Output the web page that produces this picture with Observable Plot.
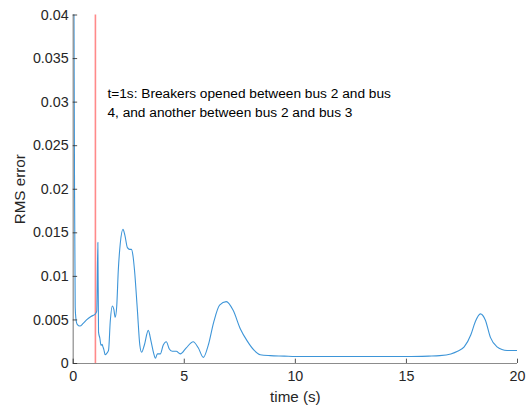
<!DOCTYPE html>
<html>
<head>
<meta charset="utf-8">
<script src="https://cdn.jsdelivr.net/npm/d3@7"></script>
<script src="https://cdn.jsdelivr.net/npm/@observablehq/plot@0.6"></script>
<style>
  html, body { margin: 0; padding: 0; background: #fff; }
  svg { font-family: "Liberation Sans", Arial, sans-serif; }
</style>
</head>
<body>
<div id="chart"></div>
<script>
// Time (s)
const time = [0, 0.03, 0.06, 0.09, 0.12, 0.18, 0.3, 0.45, 0.6, 0.8, 1.0,
  1.06, 1.11, 1.14, 1.2, 1.25, 1.3, 1.34, 1.38, 1.44, 1.52, 1.59, 1.67, 1.76, 1.83, 1.89,
  1.96, 2.03, 2.12, 2.24, 2.32, 2.44, 2.54, 2.62, 2.7, 2.76, 2.89, 3.0, 3.08, 3.2, 3.38,
  3.5, 3.62, 3.7, 3.79, 3.92, 4.05, 4.19, 4.32, 4.46, 4.64, 4.82, 5.09, 5.4, 5.63, 5.86,
  6.08, 6.32, 6.59, 6.89, 7.2, 7.52, 7.83, 8.15, 8.42, 8.87, 9.5, 10, 11, 12, 13, 14, 15,
  16, 16.5, 17, 17.3, 17.6, 17.9, 18.1, 18.33, 18.55, 18.78, 19.08, 19.3, 19.53, 19.8, 20];
// RMS error
const rmsError = [0.06, 0.045, 0.02, 0.0065, 0.0052, 0.0045, 0.0043, 0.0046, 0.005, 0.0054, 0.0057,
  0.006, 0.0139, 0.0036, 0.0029, 0.0021, 0.0022, 0.0019, 0.0016, 0.001, 0.0012, 0.0015, 0.0049, 0.0066, 0.0062, 0.0053,
  0.0066, 0.0107, 0.0138, 0.0154, 0.0148, 0.0133, 0.0131, 0.0131, 0.0122, 0.0107, 0.0061, 0.0021, 0.0013, 0.0021, 0.0038,
  0.0026, 0.0012, 0.0006, 0.0011, 0.0011, 0.0021, 0.0025, 0.0017, 0.0014, 0.0014, 0.0011, 0.0018, 0.0025, 0.0018, 0.0007,
  0.0021, 0.0047, 0.0067, 0.0071, 0.0061, 0.004, 0.0026, 0.0015, 0.001, 0.0009, 0.00085, 0.0008, 0.0008, 0.0008, 0.0008, 0.0008, 0.0008,
  0.00085, 0.0009, 0.0011, 0.0014, 0.0019, 0.0033, 0.0048, 0.0057, 0.005, 0.003, 0.0019, 0.0016, 0.0015, 0.0015, 0.0015];

const xTicks = [0, 5, 10, 15, 20];
const yTicks = [0, 0.005, 0.01, 0.015, 0.02, 0.025, 0.03, 0.035, 0.04];
const xLabel = "time (s)";
const yLabel = "RMS error";
const events = [{t: 1, text: "t=1s: Breakers opened between bus 2 and bus\n4, and another between bus 2 and bus 3"}];

const data = time.map((t, i) => ({t, e: rmsError[i]}));
const fmt = d => d === 0 ? "0" : String(+d.toFixed(3));
const axisColor = "#262626";
const tickFs = 14.3;
const labelFs = 15.2;

const chart = Plot.plot({
  width: 531,
  height: 409,
  marginLeft: 72.7,
  marginRight: 14,
  marginTop: 14.5,
  marginBottom: 46,
  style: {fontSize: tickFs + "px", fontFamily: "'Liberation Sans', Arial, sans-serif", color: axisColor, background: "#fff"},
  x: {domain: [0, 20]},
  y: {domain: [0, 0.04]},
  marks: [
    Plot.ruleX(events, {x: "t", stroke: "#ff8a8a", strokeWidth: 1.6}),
    Plot.line(data, {x: "t", y: "e", stroke: "#3d95d8", strokeWidth: 1.1, curve: "monotone-x", clip: true}),
    Plot.ruleX([0], {stroke: "#8c8c8c", strokeWidth: 1.2}),
    Plot.ruleY([0], {stroke: "#8c8c8c", strokeWidth: 1.2}),
    Plot.ruleY(yTicks, {y: d => d, x1: 0, x2: 0.2, stroke: axisColor, strokeWidth: 0.8}),
    Plot.ruleX(xTicks, {x: d => d, y1: 0, y2: 0.0005, stroke: axisColor, strokeWidth: 0.8}),
    Plot.axisY({ticks: yTicks, tickSize: 0, tickPadding: 4.5, tickFormat: fmt, label: null, fill: axisColor, fontSize: tickFs}),
    Plot.axisX({ticks: xTicks, tickSize: 0, tickPadding: 7.5, tickFormat: d => String(d), label: null, fill: axisColor, fontSize: tickFs}),
    Plot.text([xLabel], {frameAnchor: "bottom", lineAnchor: "middle", dy: 34, text: d => d, fill: axisColor, fontSize: labelFs}),
    Plot.text([yLabel], {frameAnchor: "left", textAnchor: "middle", dx: -53.5, rotate: -90, text: d => d, fill: axisColor, fontSize: labelFs}),
    Plot.text(events, {x: "t", frameAnchor: "top", dy: 70.5, dx: 12, text: "text", textAnchor: "start", lineAnchor: "top", lineHeight: 1.33, fill: "#000", fontSize: 13.7})
  ]
});
document.getElementById("chart").appendChild(chart);
</script>
</body>
</html>
